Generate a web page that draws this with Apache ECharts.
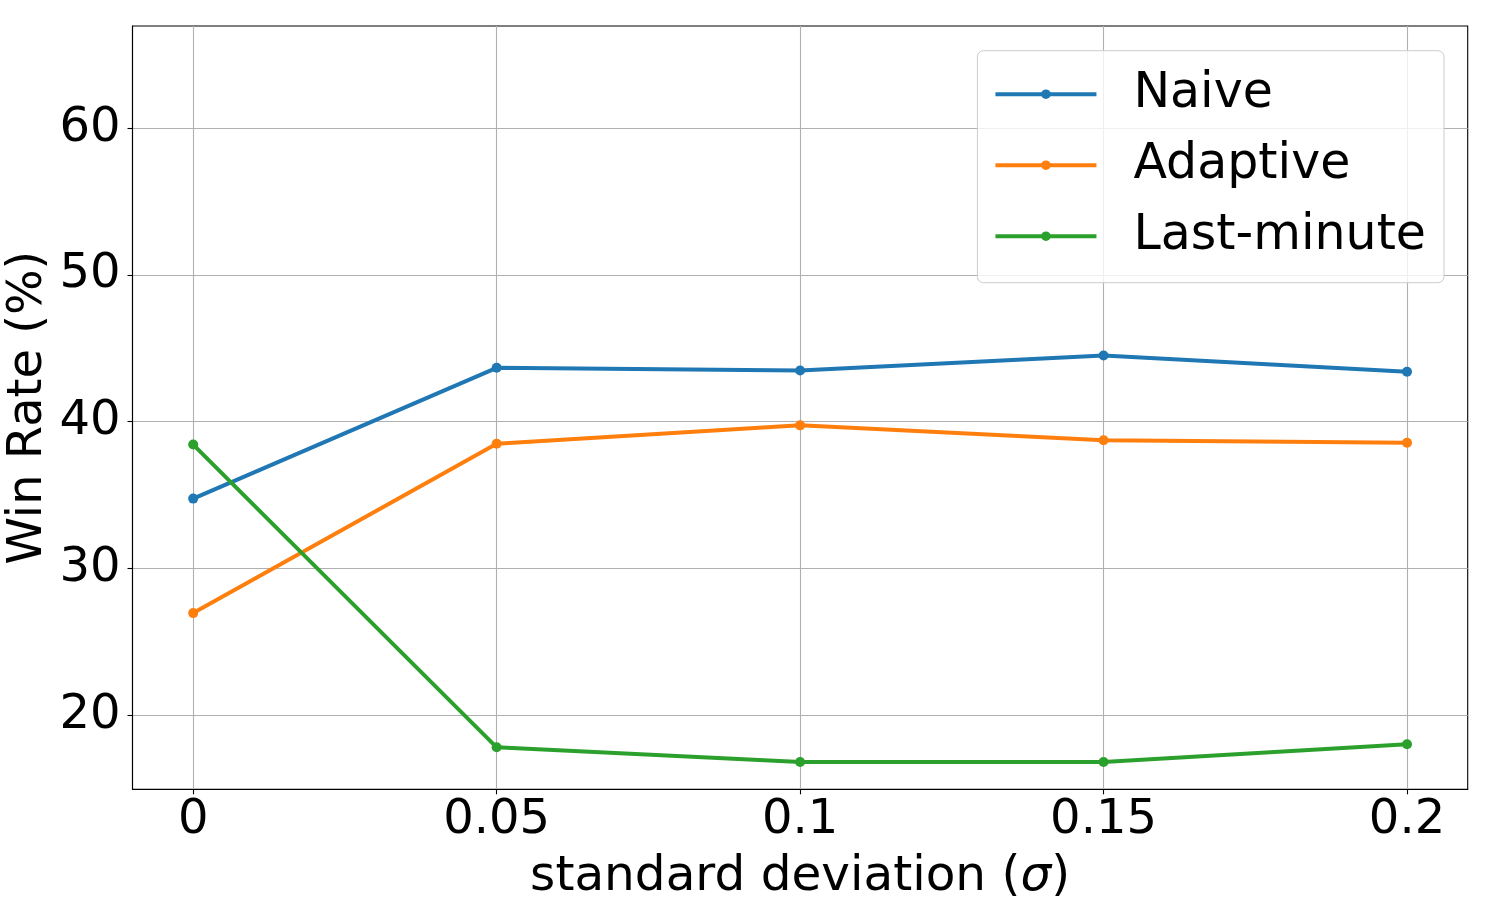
<!DOCTYPE html>
<html>
<head>
<meta charset="utf-8">
<script src="https://cdn.jsdelivr.net/npm/echarts@6/dist/echarts.min.js"></script>
<style>
html,body{margin:0;padding:0;background:#fff;}
#chart{width:1500px;height:900px;}
</style>
</head>
<body>
<div id="chart"></div>
<script>
const sigmaValues = [0, 0.05, 0.1, 0.15, 0.2];
const naive = [34.76, 43.67, 43.48, 44.51, 43.40];
const adaptive = [26.96, 38.50, 39.75, 38.73, 38.57];
const lastMinute = [38.44, 17.82, 16.82, 16.82, 18.03];
const xTickValues = [0, 0.05, 0.1, 0.15, 0.2];
const xTickLabels = ['0', '0.05', '0.1', '0.15', '0.2'];
const yTickValues = [20, 30, 40, 50, 60];
const seriesNames = ['Naive', 'Adaptive', 'Last-minute'];
const colors = ['#1f77b4', '#ff7f0e', '#2ca02c'];

const FONT = 'DejaVu Sans';
const pairs = arr => sigmaValues.map((x, i) => [x, arr[i]]);

const chart = echarts.init(document.getElementById('chart'), null, {renderer: 'canvas'});
const mkSeries = (name, data, color) => ({
  name: name,
  type: 'line',
  data: pairs(data),
  symbol: 'circle',
  symbolSize: 10,
  showSymbol: true,
  color: color,
  lineStyle: {width: 4, color: color},
  itemStyle: {color: color},
  emphasis: {disabled: true},
  animation: false
});

chart.setOption({
  animation: false,
  backgroundColor: '#fff',
  grid: {
    left: 132.5, right: 32.3, top: 26, bottom: 110.7,
    outerBoundsMode: 'none',
    containLabel: false,
    show: true, borderColor: '#000', borderWidth: 1.1, backgroundColor: 'transparent'
  },
  legend: {
    data: seriesNames,
    right: 56, top: 50.7,
    orient: 'vertical',
    itemWidth: 101,
    itemHeight: 12,
    itemGap: 22,
    padding: [19, 18, 22, 16],
    backgroundColor: 'rgba(255,255,255,0.8)',
    borderColor: '#cccccc',
    borderWidth: 1,
    borderRadius: 6,
    lineStyle: {width: 4},
    textStyle: {fontFamily: FONT, fontSize: 49, color: '#000', padding: [0, 0, 0, 32]}
  },
  xAxis: {
    type: 'value',
    min: -0.01, max: 0.21,
    name: 'standard deviation ({i|σ})',
    nameLocation: 'middle',
    nameGap: 64,
    nameMoveOverlap: false,
    nameTextStyle: {
      fontFamily: FONT, fontSize: 48.5, color: '#000',
      rich: {i: {fontFamily: FONT, fontSize: 48.5, fontStyle: 'italic', color: '#000'}}
    },
    axisLine: {show: true, onZero: false, lineStyle: {color: '#000', width: 1.1}},
    axisTick: {show: true, customValues: xTickValues, length: 5, inside: false, lineStyle: {color: '#000', width: 1.1}},
    axisLabel: {
      customValues: xTickValues,
      margin: 7.5,
      fontFamily: FONT, fontSize: 48, color: '#000',
      formatter: v => {
        const i = xTickValues.findIndex(t => Math.abs(t - v) < 1e-9);
        return i >= 0 ? xTickLabels[i] : '';
      }
    },
    splitLine: {show: true, lineStyle: {color: '#b0b0b0', width: 1.1}}
  },
  yAxis: {
    type: 'value',
    min: 14.96, max: 66.95,
    name: 'Win Rate (%)',
    nameLocation: 'middle',
    nameGap: 80,
    nameMoveOverlap: false,
    nameTextStyle: {fontFamily: FONT, fontSize: 48, color: '#000'},
    axisLine: {show: true, onZero: false, lineStyle: {color: '#000', width: 1.1}},
    axisTick: {show: true, customValues: yTickValues, length: 5, inside: false, lineStyle: {color: '#000', width: 1.1}},
    axisLabel: {
      customValues: yTickValues,
      margin: 12,
      fontFamily: FONT, fontSize: 48, color: '#000'
    },
    splitLine: {show: true, lineStyle: {color: '#b0b0b0', width: 1.1}}
  },
  series: [
    mkSeries(seriesNames[0], naive, colors[0]),
    mkSeries(seriesNames[1], adaptive, colors[1]),
    mkSeries(seriesNames[2], lastMinute, colors[2])
  ]
});
</script>
</body>
</html>
